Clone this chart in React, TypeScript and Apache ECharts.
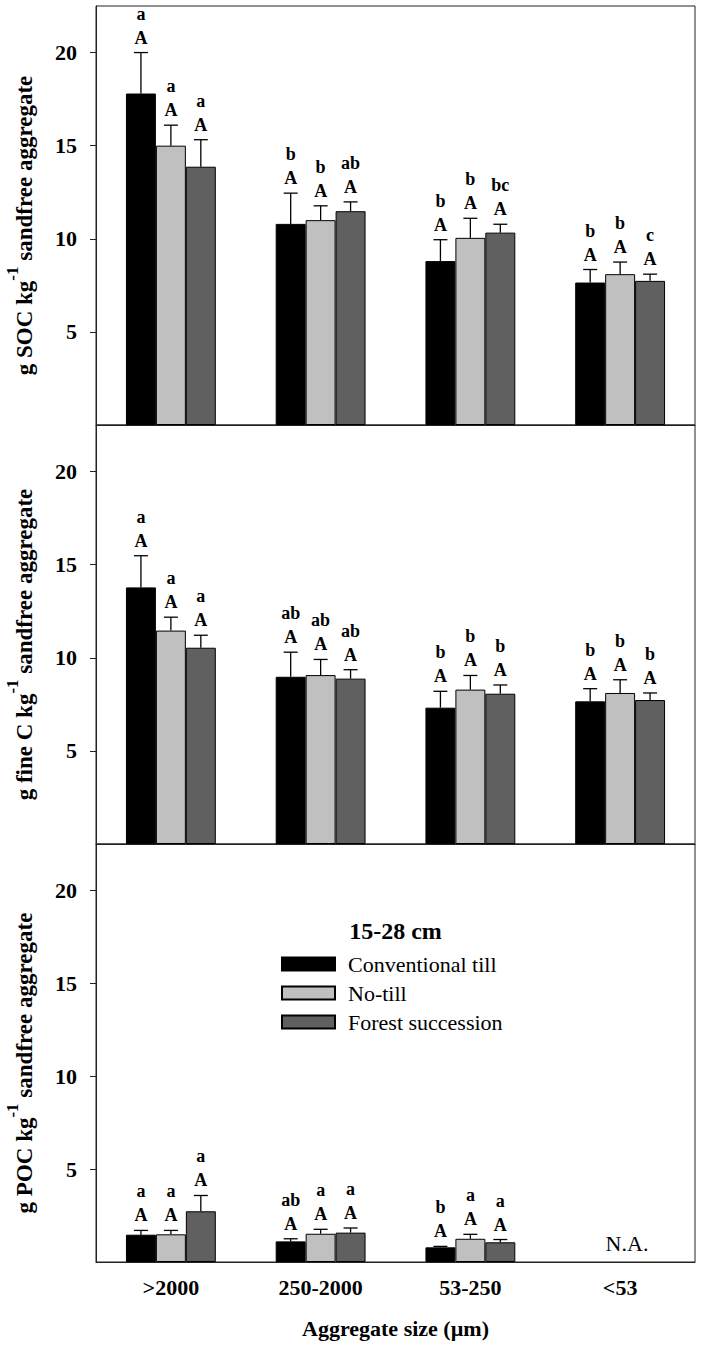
import React, { useEffect, useRef } from 'react';
import * as echarts from 'echarts';

const FONT = 'Liberation Serif';

const categories = ['>2000', '250-2000', '53-250', '<53'];
const treatments = ['Conventional till', 'No-till', 'Forest succession'];
const colors = ['#000000', '#c0c0c0', '#606060'];
const yTicks = [5, 10, 15, 20];

// Panel 1: g SOC kg-1 sandfree aggregate
const socCT = [17.8, 10.8, 8.8, 7.65];
const socNT = [15.0, 11.0, 10.05, 8.1];
const socFS = [13.87, 11.48, 10.33, 7.74];
const socErrCT = [2.2, 1.65, 1.15, 0.7];
const socErrNT = [1.1, 0.77, 1.05, 0.65];
const socErrFS = [1.45, 0.5, 0.45, 0.36];
const socLowerCT = ['a', 'b', 'b', 'b'];
const socLowerNT = ['a', 'b', 'b', 'b'];
const socLowerFS = ['a', 'ab', 'bc', 'c'];

// Panel 2: g fine C kg-1 sandfree aggregate
const fineCT = [13.78, 8.98, 7.32, 7.66];
const fineNT = [11.46, 9.07, 8.29, 8.11];
const fineFS = [10.54, 8.88, 8.07, 7.73];
const fineErrCT = [1.7, 1.32, 0.88, 0.68];
const fineErrNT = [0.72, 0.84, 0.76, 0.71];
const fineErrFS = [0.67, 0.48, 0.47, 0.38];
const fineLowerCT = ['a', 'ab', 'b', 'b'];
const fineLowerNT = ['a', 'ab', 'b', 'b'];
const fineLowerFS = ['a', 'ab', 'b', 'b'];

// Panel 3: g POC kg-1 sandfree aggregate (<53 not available)
const pocCT = [1.47, 1.11, 0.79, null];
const pocNT = [1.49, 1.52, 1.25, null];
const pocFS = [2.73, 1.58, 1.06, null];
const pocErrCT = [0.23, 0.14, 0.05, null];
const pocErrNT = [0.21, 0.24, 0.24, null];
const pocErrFS = [0.85, 0.25, 0.15, null];
const pocLowerCT = ['a', 'ab', 'b', ''];
const pocLowerNT = ['a', 'a', 'a', ''];
const pocLowerFS = ['a', 'a', 'a', ''];

const upperLetter = 'A';

const panels = [
  {
    label: 'SOC',
    means: [socCT, socNT, socFS],
    errs: [socErrCT, socErrNT, socErrFS],
    lower: [socLowerCT, socLowerNT, socLowerFS],
  },
  {
    label: 'fine C',
    means: [fineCT, fineNT, fineFS],
    errs: [fineErrCT, fineErrNT, fineErrFS],
    lower: [fineLowerCT, fineLowerNT, fineLowerFS],
  },
  {
    label: 'POC',
    means: [pocCT, pocNT, pocFS],
    errs: [pocErrCT, pocErrNT, pocErrFS],
    lower: [pocLowerCT, pocLowerNT, pocLowerFS],
  },
];

export default function App() {
  const ref = useRef<HTMLDivElement>(null);

  useEffect(() => {
    if (!ref.current) return;
    document.body.style.margin = '0';
    const chart = echarts.init(ref.current, null, { renderer: 'svg' });

    const gridTops = [6, 425, 844];
    const gridHeights = [419, 419, 418];

    const grids = gridTops.map((top, i) => ({
      left: 96,
      right: 7,
      top,
      height: gridHeights[i],
      show: true,
      borderColor: '#222',
      borderWidth: 1,
      containLabel: false,
      outerBoundsMode: 'none',
    }));

    const xAxes = panels.map((_, i) => ({
      type: 'category',
      gridIndex: i,
      data: categories,
      boundaryGap: true,
      axisLine: { show: true, lineStyle: { color: '#222', width: 1 } },
      axisTick: { show: false },
      axisLabel:
        i === 2
          ? { show: true, fontSize: 22, fontWeight: 'bold', fontFamily: FONT, color: '#000', margin: 14 }
          : { show: false },
      name: i === 2 ? 'Aggregate size (\u00b5m)' : '',
      nameLocation: 'middle',
      nameGap: 55,
      nameTextStyle: { fontSize: 22, fontWeight: 'bold', fontFamily: FONT, color: '#000' },
      splitLine: { show: false },
    }));

    const yAxes = panels.map((p, i) => ({
      type: 'value',
      gridIndex: i,
      min: 0,
      max: 22.5,
      interval: 5,
      axisLine: { show: true, lineStyle: { color: '#222', width: 1 } },
      axisTick: { show: true, inside: false, length: 6, lineStyle: { color: '#222' }, customValues: yTicks },
      axisLabel: {
        show: true,
        fontSize: 22,
        fontWeight: 'bold',
        fontFamily: FONT,
        color: '#000',
        margin: 19,
        customValues: yTicks,
        formatter: (v: number) => (yTicks.indexOf(v) >= 0 ? String(v) : ''),
      },
      splitLine: { show: false },
      name: `{m|g ${p.label} kg}{s|-1}{m| sandfree aggregate}{sp| }`,
      nameLocation: 'middle',
      nameRotate: 90,
      nameGap: 52,
      nameTextStyle: {
        fontFamily: FONT,
        rich: {
          m: { fontSize: 23, fontWeight: 'bold', fontFamily: FONT, color: '#000', lineHeight: 40 },
          s: { fontSize: 17, fontWeight: 'bold', fontFamily: FONT, color: '#000', lineHeight: 17, verticalAlign: 'top' },
          sp: { width: 20, fontSize: 23, lineHeight: 40 },
        },
      },
    }));

    const series: any[] = [];
    panels.forEach((p, pi) => {
      treatments.forEach((name, t) => {
        series.push({
          type: 'bar',
          name,
          xAxisIndex: pi,
          yAxisIndex: pi,
          data: p.means[t],
          barGap: '0%',
          barCategoryGap: '40%',
          itemStyle: { color: colors[t], borderColor: '#000', borderWidth: 1 },
          emphasis: { disabled: true },
        });
      });
      const info: any[] = [];
      const data: any[] = [];
      treatments.forEach((_, t) => {
        categories.forEach((_c, c) => {
          const m = p.means[t][c];
          const e = p.errs[t][c];
          if (m == null || e == null) return;
          info.push({ t, c, m, e, lo: p.lower[t][c], up: upperLetter });
          data.push([c, m + e]);
        });
      });
      series.push({
        type: 'custom',
        xAxisIndex: pi,
        yAxisIndex: pi,
        clip: false,
        silent: true,
        data,
        renderItem: (params: any, api: any) => {
          const d = info[params.dataIndex];
          const band = api.size([1, 0])[0];
          const base = api.coord([d.c, d.m]);
          const x = base[0] + (d.t - 1) * band * 0.2;
          const yMean = base[1];
          const yTop = api.coord([d.c, d.m + d.e])[1];
          const cap = 7;
          const ls = { stroke: '#000', lineWidth: 1.3 };
          const txt = (s: string, y: number) => ({
            type: 'text',
            style: {
              text: s,
              x,
              y,
              fill: '#000',
              fontSize: 18,
              fontWeight: 'bold',
              fontFamily: FONT,
              align: 'center',
              verticalAlign: 'middle',
            },
          });
          return {
            type: 'group',
            children: [
              { type: 'line', shape: { x1: x, y1: yMean, x2: x, y2: yTop }, style: ls },
              { type: 'line', shape: { x1: x - cap, y1: yTop, x2: x + cap, y2: yTop }, style: ls },
              txt(d.up, yTop - 15),
              txt(d.lo, yTop - 39),
            ],
          };
        },
      });
    });

    chart.setOption({
      animation: false,
      backgroundColor: '#ffffff',
      textStyle: { fontFamily: FONT },
      grid: grids,
      xAxis: xAxes,
      yAxis: yAxes,
      legend: {
        data: treatments,
        orient: 'vertical',
        left: 281,
        top: 953,
        padding: 0,
        itemWidth: 53,
        itemHeight: 13,
        itemGap: 7,
        icon: 'rect',
        selectedMode: false,
        textStyle: { fontSize: 22, fontFamily: FONT, color: '#000', lineHeight: 22, padding: [0, 0, 0, 8] },
      },
      graphic: [
        {
          type: 'text',
          x: 395.5,
          y: 931,
          style: {
            text: '15-28 cm',
            fill: '#000',
            fontSize: 24,
            fontWeight: 'bold',
            fontFamily: FONT,
            align: 'center',
            verticalAlign: 'middle',
          },
        },
        {
          type: 'text',
          x: 627,
          y: 1243,
          style: {
            text: 'N.A.',
            fill: '#000',
            fontSize: 22,
            fontFamily: FONT,
            align: 'center',
            verticalAlign: 'middle',
          },
        },
      ],
      series,
    });

    return () => {
      chart.dispose();
    };
  }, []);

  return (
    <div
      ref={ref}
      style={{ position: 'absolute', left: 0, top: 0, width: 702, height: 1350, background: '#fff' }}
    />
  );
}
